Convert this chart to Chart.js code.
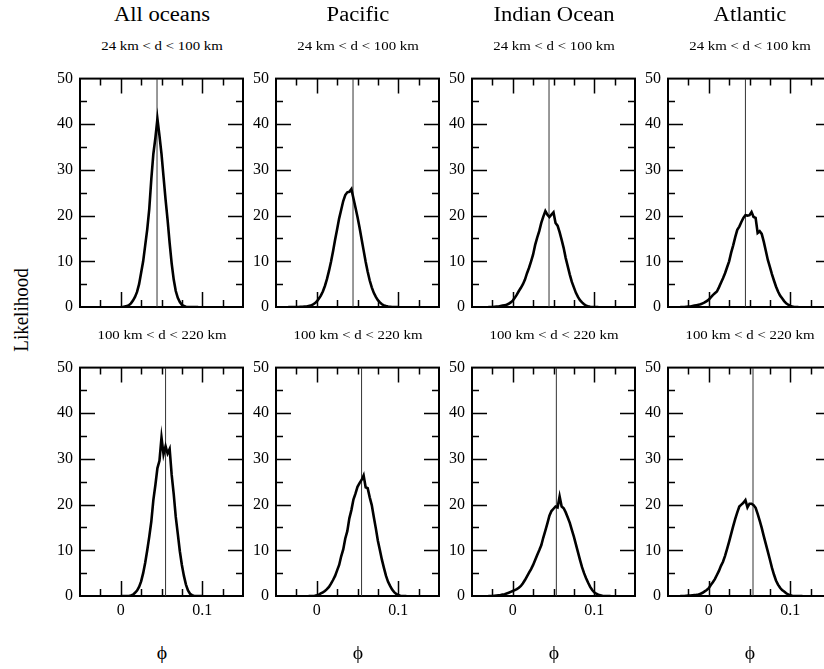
<!DOCTYPE html>
<html>
<head>
<meta charset="utf-8">
<script src="https://cdn.jsdelivr.net/npm/chart.js@4.4.1/dist/chart.umd.min.js"></script>
<style>
  html, body { margin: 0; padding: 0; background: #fff; overflow: hidden; width: 824px; height: 669px; }
  #wrap { position: relative; width: 824px; height: 669px; overflow: hidden; }
  .box { position: absolute; }
  .txt { position: absolute; font-family: "Liberation Serif", "Times New Roman", serif; color: #000; white-space: nowrap; }
</style>
</head>
<body>
<div id="wrap"></div>
<script>
// ---- data -------------------------------------------------------------
const regions = ['All oceans', 'Pacific', 'Indian Ocean', 'Atlantic'];
const depthBands = ['24 km < d < 100 km', '100 km < d < 220 km'];

// phi grid shared by all histograms
const phi = [
  -0.035, -0.0325, -0.03, -0.0275, -0.025, -0.0225, -0.02, -0.0175, -0.015, -0.0125,
  -0.01, -0.0075, -0.005, -0.0025, 0, 0.0025, 0.005, 0.0075, 0.01, 0.0125,
  0.015, 0.0175, 0.02, 0.0225, 0.025, 0.0275, 0.03, 0.0325, 0.035, 0.0375,
  0.04, 0.0425, 0.045, 0.0475, 0.05, 0.0525, 0.055, 0.0575, 0.06, 0.0625,
  0.065, 0.0675, 0.07, 0.0725, 0.075, 0.0775, 0.08, 0.0825, 0.085, 0.0875,
  0.09, 0.0925, 0.095, 0.0975, 0.1, 0.1025, 0.105, 0.1075, 0.11, 0.1125,
  0.115, 0.1175, 0.12
];

// likelihood, 24 km < d < 100 km
const allShallow = [
  null, null, null, null, null, null, null, null, null, null,
  null, null, null, null, 0, 0, 0.1, 0.2, 0.4, 0.8,
  1.4, 2.2, 3.3, 5.0, 7.5, 10.0, 13.5, 17.0, 21.5, 28.0,
  33.5, 37.0, 41.2, 37.5, 33.5, 28.5, 23.5, 19.0, 14.0, 9.5,
  6.0, 3.5, 2.0, 1.1, 0.5, 0.2, 0.05, 0, 0, 0,
  0, 0, 0, null, null, null, null, null, null, null,
  null, null, null
];
const pacShallow = [
  0, 0, 0, 0, 0, 0, 0.05, 0.05, 0.1, 0.1,
  0.2, 0.3, 0.5, 0.8, 1.2, 1.8, 2.5, 3.4, 4.6, 6.1,
  7.9, 9.9, 12.2, 14.7, 17.0, 19.4, 21.3, 23.2, 24.5, 25.1,
  25.2, 25.8, 23.8, 21.8, 19.7, 17.4, 14.9, 12.4, 9.9, 7.7,
  5.8, 4.3, 3.1, 2.2, 1.5, 1.0, 0.6, 0.35, 0.2, 0.1,
  0.05, 0, 0, 0, 0, null, null, null, null, null,
  null, null, null
];
const indShallow = [
  null, null, 0, 0, 0, 0.05, 0.1, 0.1, 0.2, 0.3,
  0.4, 0.5, 0.7, 1.0, 1.4, 2.0, 2.7, 3.5, 4.2, 5.0,
  6.0, 7.4, 8.6, 10.0, 11.5, 13.6, 15.2, 16.6, 18.4, 19.8,
  21.0, 20.2, 19.7, 20.2, 20.7, 18.4, 17.8, 16.4, 14.7, 12.9,
  10.7, 8.9, 7.1, 5.5, 4.3, 3.1, 2.2, 1.5, 1.0, 0.6,
  0.3, 0.15, 0.05, 0, 0, 0, 0, null, null, null,
  null, null, null
];
const atlShallow = [
  0, 0, 0, 0.05, 0.1, 0.1, 0.2, 0.3, 0.4, 0.5,
  0.6, 0.8, 1.0, 1.3, 1.6, 2.1, 2.6, 3.0, 3.4, 4.3,
  5.3, 6.3, 7.4, 8.7, 10.0, 11.9, 13.5, 15.3, 16.9, 17.6,
  18.6, 19.5, 20.1, 20.0, 20.1, 20.8, 19.7, 19.5, 16.2, 16.6,
  16.0, 14.3, 12.3, 10.3, 8.8, 7.2, 5.8, 4.5, 3.4, 2.5,
  1.9, 1.3, 0.8, 0.5, 0.25, 0.1, 0, 0, 0, null,
  null, null, null
];

// likelihood, 100 km < d < 220 km
const allDeep = [
  null, null, null, null, null, null, null, null, null, null,
  null, null, null, null, 0, 0, 0, 0, 0, 0.1,
  0.3, 0.7, 1.2, 2.0, 3.2, 5.0, 7.3, 10.0, 13.0, 16.3,
  21.0, 24.3, 28.0, 29.6, 34.7, 31.0, 32.8, 31.2, 32.2, 26.5,
  22.3, 17.3, 13.6, 9.8, 6.8, 4.4, 2.5, 1.2, 0.5, 0.2,
  0, 0, 0, 0, 0, null, null, null, null, null,
  null, null, null
];
const pacDeep = [
  null, null, null, null, null, null, null, null, null, null,
  0, 0, 0, 0.05, 0.15, 0.3, 0.55, 0.8, 1.1, 1.5,
  2.0, 2.7, 3.5, 4.4, 5.6, 6.8, 8.7, 10.2, 12.6, 14.2,
  17.0, 18.8, 21.1, 22.4, 23.9, 24.7, 25.4, 26.4, 23.8, 23.6,
  21.6, 19.9, 17.3, 14.8, 12.1, 10.0, 7.9, 6.1, 4.4, 3.1,
  2.2, 1.4, 0.85, 0.45, 0.2, 0.05, 0, 0, 0, null,
  null, null, null
];
const indDeep = [
  null, null, 0, 0, 0, 0.05, 0.1, 0.15, 0.2, 0.3,
  0.4, 0.55, 0.7, 0.9, 1.1, 1.3, 1.5, 1.8, 2.2, 2.8,
  3.5, 4.3, 5.1, 5.9, 6.8, 7.9, 9.0, 10.0, 11.1, 12.8,
  14.3, 15.9, 17.6, 18.6, 19.1, 19.6, 19.4, 21.8, 19.6, 19.2,
  18.3, 17.2, 16.0, 14.5, 13.0, 11.3, 9.6, 7.9, 6.3, 5.0,
  3.9, 2.9, 2.0, 1.3, 0.8, 0.5, 0.3, 0.15, 0.05, 0,
  0, 0, 0
];
const atlDeep = [
  0, 0, 0, 0.05, 0.1, 0.1, 0.15, 0.2, 0.25, 0.35,
  0.5, 0.7, 1.0, 1.3, 1.7, 2.4, 3.0, 3.7, 4.6, 5.5,
  6.6, 7.5, 8.8, 10.3, 11.9, 13.6, 15.3, 16.9, 18.3, 19.6,
  20.0, 20.4, 21.0, 19.4, 20.2, 20.2, 19.9, 19.3, 18.0, 16.5,
  14.9, 13.1, 11.4, 9.7, 8.0, 6.2, 4.7, 3.4, 2.5, 1.8,
  1.3, 1.0, 0.6, 0.35, 0.15, 0.05, 0, 0, 0, 0,
  0, null, null
];

// reference phi marked by the vertical line in each panel
const markShallow = [0.0445, 0.0445, 0.0445, 0.045];
const markDeep = [0.055, 0.055, 0.0535, 0.0543];

// axes
const yTicks = [0, 10, 20, 30, 40, 50];
const yMarks = [5, 10, 15, 20, 25, 30, 35, 40, 45];
const xTickValues = [0, 0.1];
const xTickLabels = ['0', '0.1'];
const xMarks = [-0.025, 0, 0.025, 0.05, 0.075, 0.1, 0.125];
const axisLabelX = '\u03D5';
const axisLabelY = 'Likelihood';

// ---- layout -----------------------------------------------------------
const PANEL_LEFT = [80, 276, 472, 668];
const ROW_TOP = [67, 356];
const PLOT_W = 163, PLOT_H = 240;
const AXIS_W = 45, AXIS_H = 30, PAD_TOP = 5, PAD_RIGHT = 5;
const SERIF = '"Liberation Serif", "Times New Roman", serif';

const rows = [
  [allShallow, pacShallow, indShallow, atlShallow],
  [allDeep, pacDeep, indDeep, atlDeep]
];
const marks = [markShallow, markDeep];

// frame plus inward tick marks on all four sides
const frameTicks = {
  id: 'frameTicks',
  beforeDatasetsDraw(chart) {
    const { ctx, chartArea: a, scales: { x, y } } = chart;
    ctx.save();
    ctx.strokeStyle = '#000';
    ctx.lineWidth = 1.5;
    ctx.beginPath();
    yMarks.forEach(v => {
      const py = Math.round(y.getPixelForValue(v)) + 0.5;
      const len = yTicks.includes(v) ? 15 : 7;
      ctx.moveTo(a.left, py); ctx.lineTo(a.left + len, py);
      ctx.moveTo(a.right, py); ctx.lineTo(a.right - len, py);
    });
    xMarks.forEach(v => {
      const px = Math.round(x.getPixelForValue(v)) + 0.5;
      const len = xTickValues.includes(v) ? 15 : 7;
      ctx.moveTo(px, a.bottom); ctx.lineTo(px, a.bottom - len);
      ctx.moveTo(px, a.top); ctx.lineTo(px, a.top + len);
    });
    ctx.stroke();
    ctx.lineWidth = 2;
    ctx.strokeRect(a.left, a.top, a.right - a.left, a.bottom - a.top);
    ctx.restore();
  }
};

const wrap = document.getElementById('wrap');

function addText(str, css, transform) {
  const d = document.createElement('div');
  d.className = 'txt';
  d.textContent = str;
  Object.assign(d.style, css);
  d.style.transform = transform;
  wrap.appendChild(d);
  return d;
}

rows.forEach((series, r) => {
  series.forEach((vals, c) => {
    const left = PANEL_LEFT[c] - AXIS_W;
    const top = ROW_TOP[r] - PAD_TOP;
    const w = AXIS_W + PLOT_W + PAD_RIGHT;
    const h = PAD_TOP + PLOT_H + AXIS_H;
    const box = document.createElement('div');
    box.className = 'box';
    box.style.left = left + 'px';
    box.style.top = top + 'px';
    box.style.width = w + 'px';
    box.style.height = h + 'px';
    const cv = document.createElement('canvas');
    cv.width = w; cv.height = h;
    box.appendChild(cv);
    wrap.appendChild(box);

    const m = marks[r][c];
    new Chart(cv.getContext('2d'), {
      type: 'line',
      data: {
        datasets: [
          {
            data: phi.map((p, i) => ({ x: p, y: vals[i] })),
            borderColor: '#000',
            borderWidth: 2.6,
            pointRadius: 0,
            tension: 0,
            fill: false,
            spanGaps: false
          },
          {
            data: [{ x: m, y: 0 }, { x: m, y: 50 }],
            borderColor: '#333',
            borderWidth: 1,
            pointRadius: 0,
            fill: false
          }
        ]
      },
      options: {
        responsive: false,
        animation: false,
        devicePixelRatio: 1,
        layout: { padding: { top: PAD_TOP, right: PAD_RIGHT, left: 0, bottom: 0 } },
        plugins: { legend: { display: false }, tooltip: { enabled: false }, title: { display: false } },
        scales: {
          x: {
            type: 'linear', min: -0.05, max: 0.15,
            afterBuildTicks: s => { s.ticks = xTickValues.map(v => ({ value: v })); },
            afterFit: s => { s.height = AXIS_H; },
            grid: { display: false, drawTicks: false },
            border: { display: false },
            ticks: {
              display: r === 1,
              autoSkip: false, maxRotation: 0, padding: 5,
              color: '#000',
              font: { family: SERIF, size: 16 },
              callback: (v, i) => xTickLabels[i]
            }
          },
          y: {
            type: 'linear', min: 0, max: 50,
            afterBuildTicks: s => { s.ticks = yTicks.map(v => ({ value: v })); },
            afterFit: s => { s.width = AXIS_W; },
            grid: { display: false, drawTicks: false },
            border: { display: false },
            ticks: {
              autoSkip: false, padding: 7,
              color: '#000',
              font: { family: SERIF, size: 16 },
              callback: v => String(v)
            }
          }
        }
      },
      plugins: [frameTicks]
    });

    const cx = PANEL_LEFT[c] + PLOT_W / 2;
    // depth band above each panel
    addText(depthBands[r], {
      left: cx + 'px', top: (ROW_TOP[r] - 27.6) + 'px',
      fontSize: '13.5px', lineHeight: '13.5px'
    }, 'translateX(-50%) scaleX(1.1)');
    if (r === 0) {
      addText(regions[c], {
        left: cx + 'px', top: '4.3px',
        fontSize: '20px', lineHeight: '20px'
      }, 'translateX(-50%) scaleX(1.13)');
    } else {
      addText(axisLabelX, {
        left: cx + 'px', top: '644px',
        fontSize: '18px', lineHeight: '18px'
      }, 'translateX(-50%) scaleX(1.1)');
    }
  });
});

addText(axisLabelY, {
  left: '21px', top: '310px',
  fontSize: '19px', lineHeight: '19px'
}, 'translate(-50%, -50%) rotate(-90deg) scaleY(1.15)');
</script>
</body>
</html>
